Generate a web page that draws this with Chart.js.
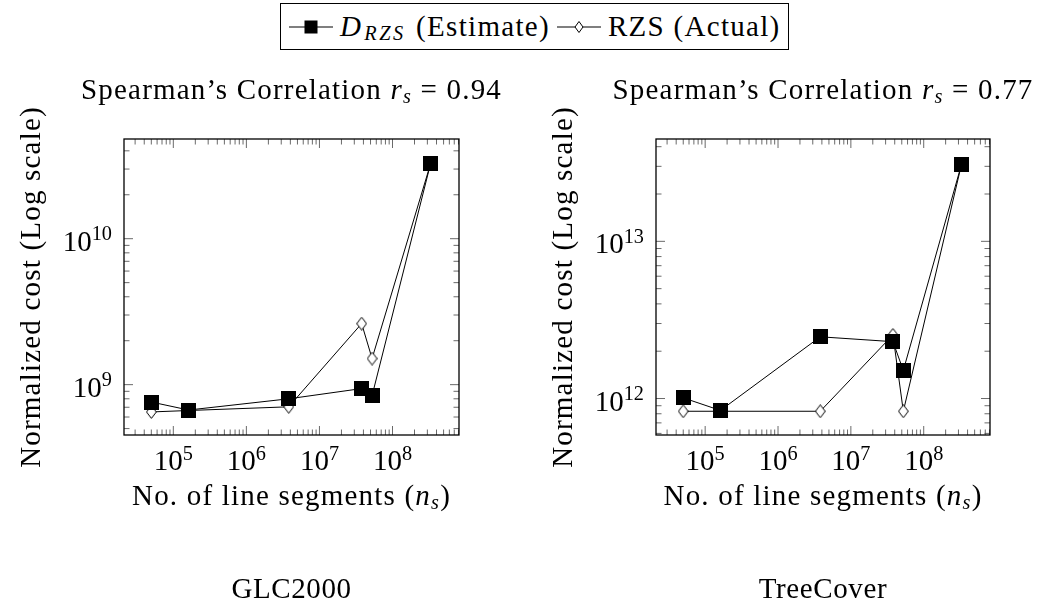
<!DOCTYPE html>
<html>
<head>
<meta charset="utf-8">
<script src="https://cdn.jsdelivr.net/npm/chart.js@4/dist/chart.umd.min.js"></script>
<style>
  html, body { margin: 0; padding: 0; background: #fff; }
  #page { position: relative; width: 1042px; height: 610px; overflow: hidden; background: #fff; }
  #page canvas { position: absolute; top: 0; }
  #legend {
    position: absolute; left: 280px; top: 3px; height: 47px; box-sizing: border-box;
    border: 1.3px solid #000; background: #fff;
    display: flex; align-items: center; white-space: nowrap;
    padding: 0 7px 0 8px;
    font: 29px "Liberation Serif", "Times New Roman", serif; color: #000;
    letter-spacing: 1.3px;
  }
  #legend svg { display: block; margin-right: 7px; }
  #legend .item { display: flex; align-items: center; }
  #legend .item + .item { margin-left: 7px; }
  #legend i.d { margin-right: 2px; }
  #legend sub { font-size: 0.7em; vertical-align: -0.2em; line-height: 0; letter-spacing: 2.5px; margin-right: 2px; }
</style>
</head>
<body>
<div id="page">
  <canvas id="glc" width="521" height="610" style="left:0;width:521px;height:610px"></canvas>
  <canvas id="tree" width="521" height="610" style="left:521px;width:521px;height:610px"></canvas>
  <div id="legend">
    <div class="item">
      <svg width="44" height="16" viewBox="0 0 44 16"><line x1="0" y1="8" x2="44" y2="8" stroke="#000" stroke-width="1.2"/><rect x="15.5" y="1.5" width="13" height="13" fill="#000"/></svg>
      <span><i class="d">D</i><sub><i>RZS</i></sub> (Estimate)</span>
    </div>
    <div class="item">
      <svg width="44" height="16" viewBox="0 0 44 16"><line x1="0" y1="8" x2="44" y2="8" stroke="#000" stroke-width="1.2"/><path d="M22 2.5 L26 8 L22 13.5 L18 8 Z" fill="#fff" stroke="#000" stroke-width="1"/></svg>
      <span>RZS (Actual)</span>
    </div>
  </div>
</div>
<script>
// Number of line segments per dataset size (shared by both panels)
const segmentCounts = [5.0e4, 1.62e5, 3.8e6, 3.78e7, 5.25e7, 3.31e8];

// GLC2000 normalized costs
const glcEstimate = [7.6e8, 6.7e8, 8.0e8, 9.4e8, 8.4e8, 3.25e10];
const glcActual   = [6.5e8, 6.65e8, 7.05e8, 2.62e9, 1.51e9, 3.25e10];

// TreeCover normalized costs
const treeEstimate = [1.01e12, 8.4e11, 2.47e12, 2.3e12, 1.51e12, 3.1e13];
const treeActual   = [8.3e11, 8.3e11, 8.3e11, 2.54e12, 8.3e11, 3.1e13];

// Decade exponents that carry tick labels
const xTickExponents = [5, 6, 7, 8];
const glcYTickExponents = [9, 10];
const treeYTickExponents = [12, 13];

// Text
const seriesNames = ['D_RZS (Estimate)', 'RZS (Actual)'];
const glcCorrelation = '0.94';
const treeCorrelation = '0.77';
const xAxisTitle = 'No. of line segments';
const yAxisTitle = 'Normalized cost (Log scale)';
const panelNames = ['GLC2000', 'TreeCover'];

const FAMILY = '"Liberation Serif", "Times New Roman", serif';
const FS = 29;
const WORD_SPACING = 1.2;   // extra tracking for running text

function squareMarker(size) {
  const c = document.createElement('canvas');
  c.width = size; c.height = size;
  const g = c.getContext('2d');
  g.fillStyle = '#000';
  g.fillRect(0, 0, size, size);
  return c;
}
function diamondMarker(w, h) {
  const c = document.createElement('canvas');
  c.width = w; c.height = h;
  const g = c.getContext('2d');
  g.beginPath();
  g.moveTo(w / 2, 0.6);
  g.lineTo(w - 0.6, h / 2);
  g.lineTo(w / 2, h - 0.6);
  g.lineTo(0.6, h / 2);
  g.closePath();
  g.fillStyle = '#fff';
  g.fill();
  g.strokeStyle = '#000';
  g.lineWidth = 1;
  g.stroke();
  return c;
}
const squareMark = squareMarker(15);
const diamondMark = diamondMarker(11, 14);

// Draw a run of text pieces (plain, italic, sub/superscript) on one baseline
function drawRuns(ctx, runs, x, y, align, spacing) {
  const sp = spacing || 0;
  let total = 0;
  const parts = runs.map(r => {
    const small = r.sub || r.sup;
    const size = small ? FS * 0.7 : FS;
    const font = (r.italic ? 'italic ' : '') + size + 'px ' + FAMILY;
    ctx.font = font;
    ctx.letterSpacing = '0px';
    const w = ctx.measureText(r.t).width + sp * r.t.length;
    total += w;
    return { t: r.t, font, w, dy: r.sup ? -FS * 0.36 : (r.sub ? FS * 0.15 : 0) };
  });
  let cx = align === 'center' ? x - total / 2 : (align === 'right' ? x - total : x);
  ctx.textAlign = 'left';
  ctx.textBaseline = 'alphabetic';
  ctx.letterSpacing = sp + 'px';
  for (const p of parts) {
    ctx.font = p.font;
    ctx.fillText(p.t, cx, y + p.dy);
    cx += p.w;
  }
  ctx.letterSpacing = '0px';
}

function logTicks(scale) {
  const out = [];
  const lo = Math.floor(Math.log10(scale.min)), hi = Math.ceil(Math.log10(scale.max));
  for (let e = lo; e <= hi; e++) {
    for (let m = 1; m <= 9; m++) {
      const v = m * Math.pow(10, e);
      if (v >= scale.min && v <= scale.max) out.push({ v, major: m === 1 });
    }
  }
  return out;
}

const frameTicks = {
  id: 'frameTicks',
  beforeDatasetsDraw(chart) {
    const { ctx, chartArea: a, scales } = chart;
    ctx.save();
    ctx.strokeStyle = '#444';
    ctx.lineWidth = 0.8;
    ctx.beginPath();
    for (const t of logTicks(scales.x)) {
      const px = scales.x.getPixelForValue(t.v);
      const len = t.major ? 9 : 5.5;
      ctx.moveTo(px, a.bottom); ctx.lineTo(px, a.bottom - len);
      ctx.moveTo(px, a.top); ctx.lineTo(px, a.top + len);
    }
    for (const t of logTicks(scales.y)) {
      const py = scales.y.getPixelForValue(t.v);
      const len = t.major ? 9 : 5.5;
      ctx.moveTo(a.left, py); ctx.lineTo(a.left + len, py);
      ctx.moveTo(a.right, py); ctx.lineTo(a.right - len, py);
    }
    ctx.stroke();
    ctx.restore();
  },
  afterDraw(chart) {
    const { ctx, chartArea: a, scales } = chart;
    const o = chart.options.plugins.frameTicks;
    ctx.save();
    ctx.strokeStyle = '#000';
    ctx.lineWidth = 1.3;
    ctx.strokeRect(a.left, a.top, a.right - a.left, a.bottom - a.top);
    ctx.fillStyle = '#000';
    const cx = (a.left + a.right) / 2;
    const cy = (a.top + a.bottom) / 2;

    // tick labels
    for (const e of xTickExponents) {
      const px = scales.x.getPixelForValue(Math.pow(10, e));
      drawRuns(ctx, [{ t: '10' }, { t: String(e), sup: true }], px, a.bottom + 35, 'center');
    }
    for (const e of o.yExponents) {
      const py = scales.y.getPixelForValue(Math.pow(10, e));
      drawRuns(ctx, [{ t: '10' }, { t: String(e), sup: true }], a.left - 12, py + 12, 'right');
    }

    // title
    drawRuns(ctx, [
      { t: 'Spearman\u2019s Correlation ' }, { t: 'r', italic: true }, { t: 's', italic: true, sub: true },
      { t: ' = ' + o.correlation }
    ], cx, 99, 'center', WORD_SPACING);

    // axis titles
    drawRuns(ctx, [{ t: xAxisTitle + ' (' }, { t: 'n', italic: true }, { t: 's', italic: true, sub: true }, { t: ')' }],
      cx, a.bottom + 70, 'center', WORD_SPACING);
    ctx.save();
    ctx.translate(a.left - 84, cy);
    ctx.rotate(-Math.PI / 2);
    drawRuns(ctx, [{ t: yAxisTitle }], 0, 0, 'center', WORD_SPACING);
    ctx.restore();

    // panel caption
    drawRuns(ctx, [{ t: o.caption }], cx, 598, 'center', 0.6);
    ctx.restore();
  }
};

function makePanel(id, estimate, actual, yMin, yMax, pad, yExponents, correlation, caption) {
  const pts = arr => segmentCounts.map((x, i) => ({ x, y: arr[i] }));
  return new Chart(document.getElementById(id), {
    type: 'line',
    data: {
      datasets: [
        {
          label: seriesNames[0], data: pts(estimate),
          borderColor: '#000', backgroundColor: '#000', borderWidth: 1,
          pointStyle: squareMark, pointRadius: 7, pointHoverRadius: 7, tension: 0
        },
        {
          label: seriesNames[1], data: pts(actual),
          borderColor: '#000', backgroundColor: '#fff', borderWidth: 1,
          pointStyle: diamondMark, pointRadius: 7, pointHoverRadius: 7, tension: 0
        }
      ]
    },
    options: {
      responsive: false,
      animation: false,
      devicePixelRatio: 1,
      events: [],
      layout: { padding: pad },
      scales: {
        x: { type: 'logarithmic', display: false, min: Math.pow(10, 4.325), max: Math.pow(10, 8.91) },
        y: { type: 'logarithmic', display: false, min: yMin, max: yMax }
      },
      plugins: {
        legend: { display: false },
        tooltip: { enabled: false },
        title: { display: false },
        frameTicks: { yExponents, correlation, caption }
      }
    },
    plugins: [frameTicks]
  });
}

makePanel('glc', glcEstimate, glcActual, Math.pow(10, 8.655), Math.pow(10, 10.683),
  { left: 124, right: 62, top: 139, bottom: 175 }, glcYTickExponents, glcCorrelation, panelNames[0]);
makePanel('tree', treeEstimate, treeActual, Math.pow(10, 11.768), Math.pow(10, 13.651),
  { left: 135, right: 52, top: 139, bottom: 175 }, treeYTickExponents, treeCorrelation, panelNames[1]);
</script>
</body>
</html>
